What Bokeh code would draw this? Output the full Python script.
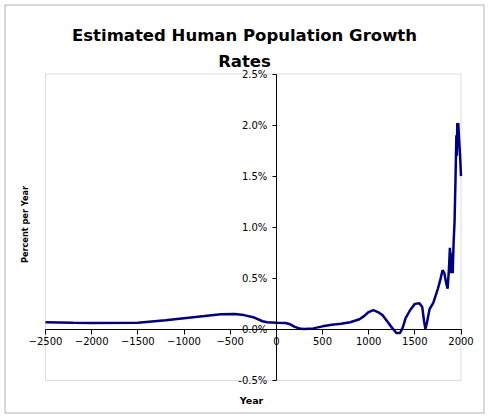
from bokeh.plotting import figure
from bokeh.models import Range1d, FixedTicker, PrintfTickFormatter, Label, BoxAnnotation
from bokeh.embed import file_html
from bokeh.resources import INLINE
import math

# ---- data ----
years = [-2500, -2200, -2000, -1500, -1200, -1000, -800, -600, -450, -350, -250, -150, -100,
         0, 100, 150, 200, 250, 300, 400, 500, 600, 700, 800, 900, 950, 1000, 1050, 1100,
         1150, 1200, 1250, 1300, 1340, 1370, 1400, 1450, 1500, 1550, 1580, 1600, 1615, 1630,
         1660, 1700, 1750, 1780, 1800, 1820, 1840, 1855, 1870, 1880, 1890, 1900, 1910, 1920,
         1930, 1940, 1950, 1955, 1960, 1965, 1970, 1980, 1990, 2000]
rates = [0.07, 0.065, 0.063, 0.065, 0.09, 0.11, 0.13, 0.148, 0.15, 0.14, 0.12, 0.08, 0.07,
         0.066, 0.063, 0.05, 0.025, 0.01, 0.005, 0.01, 0.03, 0.045, 0.055, 0.07, 0.1, 0.13, 0.17, 0.188, 0.17,
         0.14, 0.08, 0.02, -0.035, -0.035, 0.02, 0.11, 0.19, 0.25, 0.255, 0.22, 0.08, 0.005, 0.06,
         0.2, 0.26, 0.4, 0.5, 0.58, 0.55, 0.45, 0.4, 0.6, 0.8, 0.55, 0.75, 0.55, 0.85,
         1.05, 1.45, 1.9, 1.7, 2.02, 1.95, 2.02, 1.85, 1.7, 1.5]
x_ticks = [-2500, -2000, -1500, -1000, -500, 0, 500, 1000, 1500, 2000]
y_ticks = [-0.5, 0.0, 0.5, 1.0, 1.5, 2.0, 2.5]
title_lines = ["Estimated Human Population Growth", "Rates"]
x_title = "Year"
y_title = "Percent per Year"

# ---- layout geometry (pixels) ----
W, H = 488, 417
FX0, FX1 = 45.0, 460.5     # plot area left / right
FY0, FY1 = 73.5, 380.0     # plot area top / bottom
sx = (FX1 - FX0) / (x_ticks[-1] - x_ticks[0])
sy = (FY1 - FY0) / (y_ticks[-1] - y_ticks[0])
x_start = x_ticks[0] - FX0 / sx
x_end = x_ticks[-1] + (W - FX1) / sx
y_end = y_ticks[-1] + FY0 / sy
y_start = y_ticks[0] - (H - FY1) / sy


def dx(px):
    return x_start + px / sx


def dy(py):
    return y_end - py / sy


p = figure(width=W, height=H, output_backend="svg", toolbar_location=None, title=None,
           x_range=Range1d(x_start, x_end), y_range=Range1d(y_start, y_end),
           min_border=0, min_border_left=0, min_border_right=0,
           min_border_top=0, min_border_bottom=0)
p.grid.visible = False
p.outline_line_color = None
p.background_fill_color = "white"
p.border_fill_color = "white"

# plot-area frame (gray) and chart-area border (black)
p.add_layout(BoxAnnotation(left=x_ticks[0], right=x_ticks[-1], bottom=y_ticks[0], top=y_ticks[-1],
                           fill_color=None, line_color="#8a8a8a", line_width=1, level="underlay"))
p.add_layout(BoxAnnotation(left=dx(4.5), right=dx(483.5), top=dy(4.5), bottom=dy(412.5),
                           fill_color=None, line_color="black", line_width=1, level="underlay"))

for ax in (p.xaxis[0], p.yaxis[0]):
    ax.fixed_location = 0
    ax.axis_line_color = "black"
    ax.axis_line_width = 1
    ax.major_tick_in = 0
    ax.minor_tick_in = 0
    ax.minor_tick_out = 0
    ax.major_tick_line_color = "black"
    ax.major_label_text_font = "DejaVu Sans"
    ax.major_label_text_font_size = "10px"
    ax.major_label_text_color = "black"

p.xaxis.bounds = (x_ticks[0], x_ticks[-1])
p.xaxis.ticker = FixedTicker(ticks=x_ticks)
p.xaxis.major_tick_out = 5
p.xaxis.major_label_standoff = 3
p.yaxis.bounds = (y_ticks[0], y_ticks[-1])
p.yaxis.ticker = FixedTicker(ticks=y_ticks)
p.yaxis.formatter = PrintfTickFormatter(format="%.1f%%")
p.yaxis.major_tick_out = 4
p.yaxis.major_label_standoff = 5

p.line(years, rates, line_color="#000080", line_width=2.5)

# texts (screen units: from the bottom-left of the canvas)
p.add_layout(Label(x=244, y=H - 35, x_units="screen", y_units="screen", text=title_lines[0],
                   text_font="DejaVu Sans", text_font_style="bold", text_font_size="16.5px",
                   text_align="center", text_baseline="alphabetic", text_color="black"))
p.add_layout(Label(x=244, y=H - 61, x_units="screen", y_units="screen", text=title_lines[1],
                   text_font="DejaVu Sans", text_font_style="bold", text_font_size="16.5px",
                   text_align="center", text_baseline="alphabetic", text_color="black"))
p.add_layout(Label(x=251, y=H - 400, x_units="screen", y_units="screen", text=x_title,
                   text_font="DejaVu Sans", text_font_style="bold", text_font_size="9.5px",
                   text_align="center", text_baseline="alphabetic", text_color="black"))
p.add_layout(Label(x=24, y=H - 224, x_units="screen", y_units="screen", text=y_title,
                   angle=math.pi / 2, text_font="DejaVu Sans", text_font_style="bold",
                   text_font_size="8.2px", text_align="center", text_baseline="alphabetic",
                   text_color="black"))

open("out.html", "w").write(file_html(p, INLINE))
